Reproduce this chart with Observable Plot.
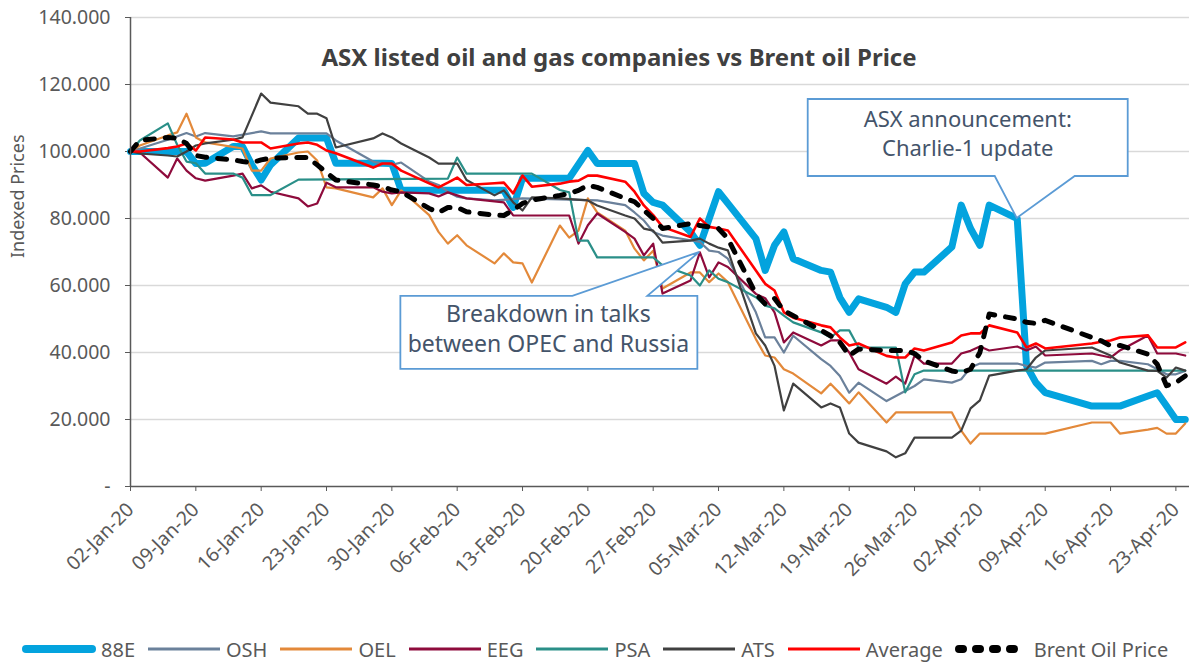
<!DOCTYPE html>
<html><head><meta charset="utf-8">
<script src="https://cdn.jsdelivr.net/npm/d3@7"></script>
<script src="https://cdn.jsdelivr.net/npm/@observablehq/plot@0.6"></script>
<style>
body{margin:0;background:#fff;font-family:"Noto Sans",sans-serif;}
#wrap{position:relative;width:1189px;height:662px;overflow:hidden;}
#legend{position:absolute;left:22px;top:635px;height:28px;display:flex;align-items:center;gap:12px;font-size:20px;color:#595959;white-space:nowrap;}
.item{display:flex;align-items:center;gap:5px;}
</style></head><body><div id="wrap"><div id="chart"></div><div id="legend"></div></div>
<script>
const title = "ASX listed oil and gas companies vs Brent oil Price";
const yLabel = "Indexed Prices";
const yTickValues = [0, 20, 40, 60, 80, 100, 120, 140];
const seriesNames = ["88E", "OSH", "OEL", "EEG", "PSA", "ATS", "Average", "Brent Oil Price"];
const note1 = ["ASX announcement:", "Charlie-1 update"];
const note2 = ["Breakdown in talks", "between OPEC and Russia"];

const s88E = [["2020-01-02",100],["2020-01-03",100],["2020-01-06",100],["2020-01-07",100],["2020-01-08",100],["2020-01-09",96.4],["2020-01-10",96.5],["2020-01-13",101.5],["2020-01-14",101.5],["2020-01-15",96],["2020-01-16",91.5],["2020-01-17",96],["2020-01-20",104],["2020-01-21",104],["2020-01-22",104],["2020-01-23",104],["2020-01-24",96.5],["2020-01-28",96.5],["2020-01-29",96.5],["2020-01-30",96.4],["2020-01-31",88.4],["2020-02-03",88.4],["2020-02-04",88.4],["2020-02-05",88.4],["2020-02-06",88.4],["2020-02-07",88.4],["2020-02-10",88.4],["2020-02-11",88.4],["2020-02-12",83.3],["2020-02-13",92],["2020-02-14",92],["2020-02-17",92],["2020-02-18",92],["2020-02-20",100.3],["2020-02-21",96.4],["2020-02-24",96.4],["2020-02-25",96.4],["2020-02-26",87.5],["2020-02-27",84.8],["2020-02-28",84],["2020-03-02",76],["2020-03-03",72],["2020-03-04",80],["2020-03-05",88],["2020-03-06",84.5],["2020-03-09",74],["2020-03-10",64.5],["2020-03-11",72],["2020-03-12",76],["2020-03-13",68],["2020-03-16",64.5],["2020-03-17",64],["2020-03-18",56.4],["2020-03-19",52],["2020-03-20",56],["2020-03-23",53.5],["2020-03-24",52],["2020-03-25",60.5],["2020-03-26",64],["2020-03-27",64],["2020-03-30",71.5],["2020-03-31",84],["2020-04-01",77],["2020-04-02",72],["2020-04-03",84],["2020-04-06",80],["2020-04-07",36],["2020-04-08",31],["2020-04-09",28],["2020-04-14",24],["2020-04-15",24],["2020-04-16",24],["2020-04-17",24],["2020-04-20",27],["2020-04-21",28],["2020-04-22",24],["2020-04-23",20],["2020-04-24",20]];

const sOSH = [["2020-01-02",100],["2020-01-06",103.5],["2020-01-08",105.5],["2020-01-09",104.5],["2020-01-10",105.5],["2020-01-13",104.5],["2020-01-16",106],["2020-01-17",105.4],["2020-01-23",105.4],["2020-01-24",103.3],["2020-01-28",97],["2020-01-29",96.4],["2020-01-30",96],["2020-01-31",96.7],["2020-02-03",91],["2020-02-04",90],["2020-02-05",88],["2020-02-06",86.5],["2020-02-07",86],["2020-02-10",85.4],["2020-02-13",86],["2020-02-21",85.4],["2020-02-24",84],["2020-02-25",81.8],["2020-02-26",79.4],["2020-02-27",76],["2020-02-28",74.9],["2020-03-02",73.5],["2020-03-03",73],["2020-03-04",70.4],["2020-03-05",70],["2020-03-06",68],["2020-03-09",52],["2020-03-10",44.5],["2020-03-11",44.5],["2020-03-12",40],["2020-03-13",45],["2020-03-16",38],["2020-03-17",36],["2020-03-18",33],["2020-03-19",28],["2020-03-20",31],["2020-03-23",25.5],["2020-03-24",27],["2020-03-25",28.5],["2020-03-26",30],["2020-03-27",32],["2020-03-30",31],["2020-03-31",32],["2020-04-01",35.5],["2020-04-02",36.7],["2020-04-06",36.7],["2020-04-07",36],["2020-04-08",35.5],["2020-04-09",37],["2020-04-14",37.5],["2020-04-15",36.5],["2020-04-16",37.5],["2020-04-17",37.5],["2020-04-20",36.5],["2020-04-21",35],["2020-04-22",33.5],["2020-04-23",33.5],["2020-04-24",34.5]];

const sOEL = [["2020-01-02",100],["2020-01-03",101.8],["2020-01-06",104.8],["2020-01-07",105.7],["2020-01-08",111.3],["2020-01-09",104.2],["2020-01-10",102.7],["2020-01-14",100.9],["2020-01-15",94.3],["2020-01-16",94.3],["2020-01-17",97.9],["2020-01-20",99.7],["2020-01-21",100],["2020-01-22",97.3],["2020-01-23",89.3],["2020-01-24",89],["2020-01-28",86.3],["2020-01-29",89],["2020-01-30",84],["2020-01-31",88.4],["2020-02-03",81],["2020-02-04",76],["2020-02-05",72.5],["2020-02-06",75],["2020-02-07",72],["2020-02-10",66.6],["2020-02-11",69.6],["2020-02-12",66.9],["2020-02-13",66.6],["2020-02-14",60.9],["2020-02-17",77.9],["2020-02-18",74.3],["2020-02-19",76.4],["2020-02-20",86],["2020-02-21",81.8],["2020-02-24",76.4],["2020-02-25",71],["2020-02-26",67.5],["2020-02-27",70.4],["2020-02-28",59.1],["2020-03-02",63.9],["2020-03-03",63.9],["2020-03-04",61],["2020-03-05",63.6],["2020-03-06",61],["2020-03-09",44],["2020-03-10",39.1],["2020-03-11",38.5],["2020-03-12",35],["2020-03-13",33.7],["2020-03-16",27.8],["2020-03-17",30.7],["2020-03-18",27.8],["2020-03-19",24.8],["2020-03-20",28.1],["2020-03-23",19.1],["2020-03-24",22.1],["2020-03-30",22.1],["2020-03-31",16.7],["2020-04-01",12.8],["2020-04-02",15.8],["2020-04-09",15.8],["2020-04-14",19.1],["2020-04-16",19.1],["2020-04-17",15.8],["2020-04-20",17],["2020-04-21",17.5],["2020-04-22",15.8],["2020-04-23",15.8],["2020-04-24",18.8]];

const sEEG = [["2020-01-02",100],["2020-01-03",99.7],["2020-01-06",92.2],["2020-01-07",97.9],["2020-01-08",94.3],["2020-01-09",92],["2020-01-10",91.3],["2020-01-13",92.8],["2020-01-14",93.4],["2020-01-15",89],["2020-01-16",89.9],["2020-01-17",88],["2020-01-20",86],["2020-01-21",83.6],["2020-01-22",84.5],["2020-01-23",90.7],["2020-01-24",89.3],["2020-01-28",89.3],["2020-01-29",88],["2020-01-30",87.5],["2020-01-31",87.8],["2020-02-03",87.5],["2020-02-04",86.6],["2020-02-05",87.8],["2020-02-07",86],["2020-02-10",85.1],["2020-02-11",84.8],["2020-02-12",80.9],["2020-02-18",80.9],["2020-02-19",72.5],["2020-02-20",78],["2020-02-21",81.5],["2020-02-24",76],["2020-02-25",74],["2020-02-26",69],["2020-02-27",72.5],["2020-02-28",57.6],["2020-03-02",61.5],["2020-03-03",69.9],["2020-03-04",62.4],["2020-03-05",66.9],["2020-03-06",65.5],["2020-03-09",57.5],["2020-03-10",56.2],["2020-03-11",52],["2020-03-12",43],["2020-03-13",46],["2020-03-16",42.1],["2020-03-17",43.6],["2020-03-18",43.6],["2020-03-19",40],["2020-03-20",35],["2020-03-23",30.7],["2020-03-24",32.8],["2020-03-25",30.7],["2020-03-26",39.1],["2020-03-27",36.7],["2020-03-30",36.7],["2020-03-31",39.7],["2020-04-01",40.5],["2020-04-02",41.8],["2020-04-03",40.6],["2020-04-06",41.8],["2020-04-07",40.6],["2020-04-08",41.8],["2020-04-09",39.1],["2020-04-14",39.7],["2020-04-16",38.5],["2020-04-17",40.6],["2020-04-20",45.1],["2020-04-21",39.7],["2020-04-23",39.7],["2020-04-24",39.1]];

const sPSA = [["2020-01-02",100],["2020-01-03",103.3],["2020-01-06",108.4],["2020-01-07",102],["2020-01-08",97],["2020-01-09",96.5],["2020-01-10",93.4],["2020-01-13",93.4],["2020-01-14",92.2],["2020-01-15",87],["2020-01-17",87],["2020-01-20",91.6],["2020-02-05",91.9],["2020-02-06",98.2],["2020-02-07",93.4],["2020-02-14",93.4],["2020-02-17",88.5],["2020-02-18",87.8],["2020-02-19",73.4],["2020-02-20",73.4],["2020-02-21",68.4],["2020-02-27",68.4],["2020-02-28",66],["2020-03-02",63],["2020-03-03",60],["2020-03-04",64.5],["2020-03-05",62],["2020-03-06",61],["2020-03-09",56.5],["2020-03-10",54],["2020-03-11",53.2],["2020-03-12",51],["2020-03-13",49],["2020-03-16",46],["2020-03-17",44.5],["2020-03-18",46.6],["2020-03-19",46.6],["2020-03-20",41.5],["2020-03-24",41.5],["2020-03-25",28.1],["2020-03-26",33.5],["2020-03-27",34.6],["2020-04-24",34.6]];

const sATS = [["2020-01-02",100],["2020-01-03",99.4],["2020-01-06",98.8],["2020-01-07",98.5],["2020-01-08",100],["2020-01-09",101.8],["2020-01-10",102.4],["2020-01-13",103.5],["2020-01-14",104.2],["2020-01-16",117.3],["2020-01-17",114.6],["2020-01-20",113.5],["2020-01-21",111.3],["2020-01-22",111.3],["2020-01-23",109.9],["2020-01-24",101.2],["2020-01-28",103.9],["2020-01-29",105.4],["2020-01-30",104.2],["2020-01-31",102.4],["2020-02-03",98.2],["2020-02-04",96.4],["2020-02-06",96.4],["2020-02-07",91.5],["2020-02-10",86.9],["2020-02-11",88.4],["2020-02-12",84.8],["2020-02-13",82.4],["2020-02-14",86.3],["2020-02-17",86],["2020-02-20",85.4],["2020-02-21",83.9],["2020-02-24",80.9],["2020-02-25",80],["2020-02-26",77],["2020-02-27",76.4],["2020-02-28",72.8],["2020-03-02",73.4],["2020-03-03",74],["2020-03-04",72.5],["2020-03-05",71.3],["2020-03-06",70.5],["2020-03-09",45.7],["2020-03-10",42.1],["2020-03-11",36],["2020-03-12",22.7],["2020-03-13",30.7],["2020-03-16",23.6],["2020-03-17",24.8],["2020-03-18",23.6],["2020-03-19",15.8],["2020-03-20",13.1],["2020-03-23",10.5],["2020-03-24",8.7],["2020-03-25",9.9],["2020-03-26",14.6],["2020-03-30",14.6],["2020-03-31",16.7],["2020-04-01",23.3],["2020-04-02",25.7],["2020-04-03",33.1],["2020-04-06",34.6],["2020-04-07",35],["2020-04-08",38.5],["2020-04-09",40.6],["2020-04-14",41.5],["2020-04-16",39.1],["2020-04-17",37],["2020-04-20",34.6],["2020-04-21",34.5],["2020-04-22",32.5],["2020-04-23",35.5],["2020-04-24",34.6]];

const sAverage = [["2020-01-02",100],["2020-01-03",100],["2020-01-06",101],["2020-01-07",101.5],["2020-01-08",102.4],["2020-01-09",100.3],["2020-01-10",104.2],["2020-01-13",103.6],["2020-01-14",102.7],["2020-01-16",102.7],["2020-01-17",100.9],["2020-01-20",102.4],["2020-01-21",102.7],["2020-01-22",102],["2020-01-23",100.3],["2020-01-24",99.5],["2020-01-28",95.2],["2020-01-29",96.4],["2020-01-30",96.4],["2020-01-31",94.3],["2020-02-03",90.5],["2020-02-04",89.3],["2020-02-05",90.7],["2020-02-06",92.2],["2020-02-07",90],["2020-02-10",90.5],["2020-02-11",90.7],["2020-02-12",87.5],["2020-02-13",92.8],["2020-02-14",89.5],["2020-02-17",90.4],["2020-02-18",91],["2020-02-19",91.3],["2020-02-20",92.8],["2020-02-21",92.8],["2020-02-24",91],["2020-02-25",88],["2020-02-26",83.9],["2020-02-27",81],["2020-02-28",77.5],["2020-03-02",74.5],["2020-03-03",80],["2020-03-04",77.5],["2020-03-05",77],["2020-03-06",76.4],["2020-03-09",64.5],["2020-03-10",60.5],["2020-03-11",58.5],["2020-03-12",52],["2020-03-13",50.4],["2020-03-16",48.1],["2020-03-17",47.5],["2020-03-18",44.5],["2020-03-19",42.1],["2020-03-20",42.7],["2020-03-23",39],["2020-03-24",38.5],["2020-03-25",38.5],["2020-03-26",41.2],["2020-03-27",40.6],["2020-03-30",43],["2020-03-31",45.1],["2020-04-01",45.7],["2020-04-02",45.7],["2020-04-03",48.1],["2020-04-06",46],["2020-04-07",41.5],["2020-04-08",42.7],["2020-04-09",41.2],["2020-04-14",42.7],["2020-04-15",43.2],["2020-04-16",43.6],["2020-04-17",44.5],["2020-04-20",45.1],["2020-04-21",41.5],["2020-04-23",41.5],["2020-04-24",43]];

const sBrent = [["2020-01-02",100],["2020-01-03",103.3],["2020-01-06",104.2],["2020-01-07",104],["2020-01-08",102.4],["2020-01-09",98.8],["2020-01-10",98.3],["2020-01-13",97.5],["2020-01-14",97],["2020-01-15",96.7],["2020-01-16",97.5],["2020-01-17",98],["2020-01-20",98.2],["2020-01-21",98.2],["2020-01-22",96],["2020-01-23",93.7],["2020-01-24",91.5],["2020-01-28",90],["2020-01-29",89.5],["2020-01-30",88.5],["2020-01-31",88],["2020-02-03",83],["2020-02-04",81.8],["2020-02-05",83.3],["2020-02-06",83.3],["2020-02-07",82],["2020-02-10",81],["2020-02-11",80.9],["2020-02-12",82.5],["2020-02-13",84.5],["2020-02-14",85.5],["2020-02-17",86.9],["2020-02-18",87.5],["2020-02-19",88.4],["2020-02-20",89.9],["2020-02-21",89.3],["2020-02-24",86],["2020-02-25",85],["2020-02-26",82.5],["2020-02-27",80],["2020-02-28",77],["2020-03-02",78.5],["2020-03-03",77.9],["2020-03-04",77.5],["2020-03-05",77],["2020-03-06",74],["2020-03-09",57.5],["2020-03-10",54.5],["2020-03-11",56.1],["2020-03-12",52.5],["2020-03-13",51],["2020-03-16",46.6],["2020-03-17",45],["2020-03-18",43],["2020-03-19",39.1],["2020-03-20",41],["2020-03-23",40.6],["2020-03-25",40.6],["2020-03-26",39.7],["2020-03-27",37.5],["2020-03-30",34.5],["2020-03-31",34],["2020-04-01",35],["2020-04-02",40],["2020-04-03",51.5],["2020-04-06",50],["2020-04-07",49],["2020-04-08",48.7],["2020-04-09",49.6],["2020-04-14",44.5],["2020-04-15",43.5],["2020-04-16",42],["2020-04-17",42.1],["2020-04-20",39.5],["2020-04-21",36.5],["2020-04-22",30.1],["2020-04-23",31],["2020-04-24",33]];

const parse = d3.utcParse("%Y-%m-%d");
const toRows = (arr, name) => arr.map(([d, v]) => ({date: parse(d), value: v, series: name}));
const allSeries = [s88E, sOSH, sOEL, sEEG, sPSA, sATS, sAverage, sBrent].map((a, i) => toRows(a, seriesNames[i]));

const styles = {
  "88E": {stroke: "#03A3DE", strokeWidth: 7},
  "OSH": {stroke: "#6B819B", strokeWidth: 2.2},
  "OEL": {stroke: "#E3893A", strokeWidth: 2.2},
  "EEG": {stroke: "#8E0B3C", strokeWidth: 2.2},
  "PSA": {stroke: "#2A8F88", strokeWidth: 2.2},
  "ATS": {stroke: "#404040", strokeWidth: 2.2},
  "Average": {stroke: "#FF0000", strokeWidth: 2.6},
  "Brent Oil Price": {stroke: "#000000", strokeWidth: 5, strokeDasharray: "9,11", strokeLinecap: "round"}
};

const xStart = parse("2020-01-02");
const xEnd = new Date(Date.UTC(2020, 3, 24, 11));
const xTicks = d3.utcThursday.range(xStart, new Date(Date.UTC(2020, 3, 25)));
const fmtX = d3.utcFormat("%d-%b-%y");
const fmtY = d => d === 0 ? "-" : d3.format(".3f")(d);
const FONT = "'Noto Sans', sans-serif";
const axisColor = "#595959";

const plot = Plot.plot({
  width: 1189, height: 626,
  marginLeft: 130, marginRight: 0, marginTop: 17, marginBottom: 140,
  style: {fontFamily: FONT, fontSize: "19.5px", color: axisColor, background: "white", overflow: "visible"},
  x: {type: "utc", domain: [xStart, xEnd], ticks: xTicks, tickFormat: fmtX, tickRotate: -45, tickSize: 5, tickPadding: 15, label: null},
  y: {domain: [0, 140], ticks: yTickValues, tickFormat: fmtY, tickSize: 5, tickPadding: 15, label: null},
  marks: [
    Plot.ruleY(yTickValues.filter(d => d > 0), {stroke: "#D9D9D9", strokeWidth: 1.5}),
    ...allSeries.map(rows => Plot.line(rows, {x: "date", y: "value", ...styles[rows[0].series]})),
    Plot.ruleX([xStart], {stroke: axisColor, strokeWidth: 1.5}),
    Plot.ruleY([0], {stroke: axisColor, strokeWidth: 1.5}),
    Plot.text([title], {frameAnchor: "top", dx: -41, dy: 31, fontWeight: "bold", fontSize: 24, fill: "#404040"}),
    Plot.text([yLabel], {frameAnchor: "left", dx: -112, dy: 6, rotate: -90, fontSize: 18, fill: axisColor})
  ]
});
document.getElementById("chart").appendChild(plot);

// callout annotations anchored to data points via the plot's scales
const xs = plot.scale("x"), ys = plot.scale("y");
const svg = d3.select(plot);
function callout(tx, ty, box, base, lines, textX, textY, size, lead) {
  const g = svg.append("g");
  const [l, r, t, b] = [tx + box[0], tx + box[1], ty + box[2], ty + box[3]];
  let pts;
  if (base.side === "bottom") {
    pts = [[l, t], [r, t], [r, b], [tx + base.b, b], [tx, ty], [tx + base.a, b], [l, b]];
  } else {
    pts = [[l, t], [tx + base.a, t], [tx, ty], [tx + base.b, t], [r, t], [r, b], [l, b]];
  }
  g.append("path").attr("d", "M" + pts.map(p => p.join(",")).join("L") + "Z")
    .attr("fill", "white").attr("stroke", "#5B9BD5").attr("stroke-width", 1.8);
  lines.forEach((s, i) => {
    g.append("text").attr("x", tx + textX).attr("y", ty + textY + i * lead)
      .attr("text-anchor", "middle").attr("font-family", FONT).attr("font-size", size)
      .attr("fill", "#44546A").text(s);
  });
}
const a1 = s88E.find(d => d[0] === "2020-04-06");
callout(xs.apply(parse(a1[0])), ys.apply(a1[1]), [-209, 111, -119, -42], {side: "bottom", a: -22, b: 58}, note1, -49, -91, 22, 29);
const a2 = sEEG.find(d => d[0] === "2020-03-03");
callout(xs.apply(parse(a2[0])), ys.apply(a2[1]), [-299, -2, 44, 117], {side: "top", a: -127, b: -52}, note2, -151, 70, 23, 30);

// legend
const legend = d3.select("#legend");
seriesNames.forEach(name => {
  const st = styles[name];
  const it = legend.append("div").attr("class", "item");
  const s = it.append("svg").attr("width", 74).attr("height", 14);
  s.append("line").attr("x1", st.strokeWidth > 4 ? 4 : 1).attr("x2", st.strokeWidth > 4 ? 70 : 73).attr("y1", 7).attr("y2", 7)
    .attr("stroke", st.stroke).attr("stroke-width", name === "88E" ? 8 : (name === "Brent Oil Price" ? 8 : 3))
    .attr("stroke-linecap", name === "Brent Oil Price" || name === "88E" ? "round" : "butt")
    .attr("stroke-dasharray", name === "Brent Oil Price" ? "4,13" : null);
  it.append("span").text(name);
});
</script></body></html>
